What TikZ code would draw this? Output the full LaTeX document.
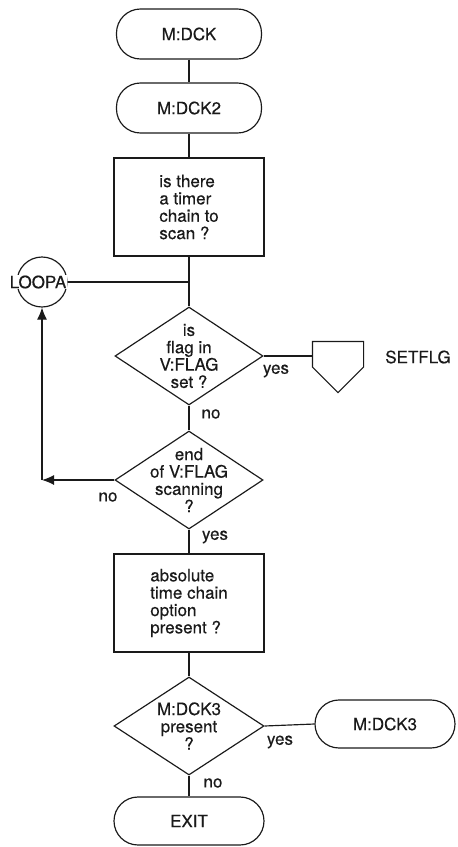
\documentclass[tikz,border=0pt]{standalone}
\usepackage{fontspec}
\setmainfont{TeX Gyre Heros}[FakeBold=0.35]
\usetikzlibrary{arrows.meta,positioning,shapes.geometric}
\definecolor{ink}{HTML}{1A1A1A}

\begin{document}
\begin{tikzpicture}[
  x=0.3mm, y=-0.3mm, line width=1pt, draw=ink,
  every node/.style={font=\fontsize{14.5}{14.8}\selectfont, text=ink},
  term/.style={draw, rounded corners=7.2mm, minimum width=43.5mm, minimum height=15mm, inner sep=0pt},
  proc/.style={draw, rectangle, align=left, minimum width=45mm, minimum height=29.4mm},
  dec/.style={draw, diamond, inner sep=0pt, minimum width=44.4mm, minimum height=29.4mm},
  qtext/.style={align=center, inner sep=0pt},
  conn/.style={draw, circle, minimum size=15mm, inner sep=0pt},
  lab/.style={inner sep=1pt},
  flow/.style={-{Latex[length=3.6mm,width=3mm]}}
]
\useasboundingbox (0,0) rectangle (457,847);
\node[term] (dck) at (189,34) {M:DCK};
\node[term] (dck2) at (189,108) {M:DCK2};
\node[proc] (scan) at (189,207) {is there\\a timer\\chain to\\scan ?};
\node[dec, label={[qtext]center:{is\\flag in\\V:FLAG\\set ?}}] (isflag) at (189,356) {};
\node[dec, label={[qtext]center:{end\\of V:FLAG\\scanning\\?}}] (endscan) at (189,480) {};
\node[proc] (abst) at (189,603) {absolute\\time chain\\option\\present ?};
\node[dec, minimum width=45mm, label={[qtext]center:{M:DCK3\\present\\?}}] (hasdck) at (189,726) {};
\node[term, minimum width=42mm, minimum height=14.4mm] (dck3) at (385,724) {M:DCK3};
\node[term, minimum width=45mm, minimum height=14.4mm] (exit) at (189,821) {EXIT};
\node[conn] (loopa) at (42,282) {};
\node[fill=white, inner sep=0.5pt] (loopatxt) at (38,282) {LOOPA};
\node[minimum width=15mm, minimum height=15mm, inner sep=0pt] (setflg) at (338,367) {};
\draw (setflg.north west) -- (setflg.north east) -- (setflg.east) -- (setflg.south) -- (setflg.west) -- cycle;
\node (setlab) at (418,357) {SETFLG};
\coordinate (join) at (scan.south |- loopa.east);
\coordinate (bend) at (loopa.south |- endscan.west);
\draw (dck) -- (dck2);
\draw (dck2) -- (scan);
\draw (scan) -- (isflag);
\draw (loopa.east) -- (join);
\draw (isflag.east) -- (isflag.east -| setflg.west);
\draw (isflag) -- (endscan);
\draw[flow] (endscan.west) -- (bend);
\draw[flow] (bend) -- (loopa.south);
\draw (endscan) -- (abst);
\draw (abst) -- (hasdck);
\draw (hasdck.east) -- (dck3.west);
\draw (hasdck) -- (exit);
\node[lab] (yes1) at (276,371) {yes};
\node[lab] (no1) at (211,414) {no};
\node[lab] (no2) at (108,497) {no};
\node[lab] (yes2) at (215,537) {yes};
\node[lab] (yes3) at (280,742) {yes};
\node[lab] (no3) at (213,783) {no};
\end{tikzpicture}
\end{document}
